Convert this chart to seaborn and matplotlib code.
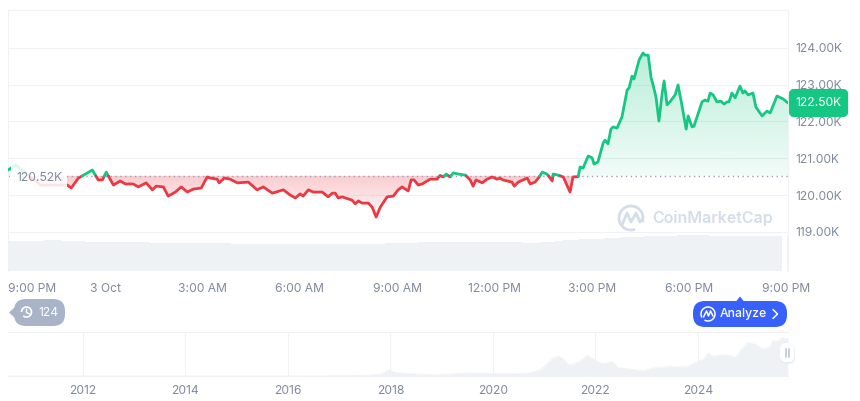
import numpy as np
import pandas as pd
import seaborn as sns
import matplotlib.pyplot as plt
from matplotlib.colors import to_rgb
from matplotlib.patches import FancyBboxPatch, Polygon, Rectangle, Arc

# Price, hours counted from midnight on 3 Oct
hours = [-2.99, -2.77, -2.00, -1.17, -1.05, -0.83, -0.55, -0.40, -0.22, -0.09, 0.03, 0.25, 0.46, 0.62, 0.86, 1.02,
         1.26, 1.45, 1.57, 1.79, 1.94, 2.16, 2.34, 2.53, 2.71, 2.96, 3.14, 3.24, 3.45, 3.51, 3.67, 3.85, 4.07, 4.41,
         4.68, 4.87, 5.15, 5.49, 5.70, 5.86, 6.01, 6.10, 6.26, 6.41, 6.69, 6.87, 7.00, 7.09, 7.18, 7.30, 7.61, 7.71,
         7.80, 7.92, 8.11, 8.23, 8.35, 8.48, 8.69, 8.88, 9.03, 9.15, 9.34, 9.43, 9.52, 9.65, 9.77, 9.92, 10.02, 10.23,
         10.32, 10.42, 10.51, 10.63, 10.73, 10.88, 11.10, 11.25, 11.34, 11.43, 11.62, 11.77, 11.93, 12.08, 12.17,
         12.26, 12.54, 12.61, 12.73, 12.88, 13.01, 13.10, 13.25, 13.38, 13.47, 13.62, 13.78, 13.81, 13.96, 14.12,
         14.33, 14.42, 14.58, 14.64, 14.73, 14.89, 15.01, 15.07, 15.19, 15.35, 15.41, 15.50, 15.59, 15.66, 15.78,
         15.93, 16.09, 16.15, 16.24, 16.30, 16.46, 16.58, 16.64, 16.74, 16.83, 16.89, 16.98, 17.07, 17.17, 17.23,
         17.32, 17.41, 17.57, 17.66, 17.75, 17.91, 17.97, 18.09, 18.15, 18.40, 18.49, 18.58, 18.65, 18.74, 18.86,
         18.98, 19.08, 19.17, 19.23, 19.32, 19.42, 19.57, 19.66, 19.72, 19.82, 19.97, 20.06, 20.25, 20.40, 20.50,
         20.71, 20.90, 21.05]
prices = [120.68, 120.82, 120.27, 120.27, 120.19, 120.46, 120.60, 120.68, 120.41, 120.41, 120.62, 120.27, 120.38,
          120.30, 120.30, 120.22, 120.33, 120.14, 120.24, 120.22, 119.97, 120.08, 120.22, 120.08, 120.16, 120.19,
          120.49, 120.46, 120.43, 120.33, 120.46, 120.43, 120.33, 120.35, 120.14, 120.22, 120.05, 120.14, 120.00,
          119.92, 120.03, 119.97, 120.14, 120.08, 120.08, 119.95, 120.05, 120.05, 119.92, 119.95, 119.86, 119.76,
          119.84, 119.78, 119.78, 119.67, 119.40, 119.67, 119.95, 119.97, 120.14, 120.22, 120.11, 120.41, 120.41,
          120.27, 120.30, 120.38, 120.43, 120.43, 120.53, 120.49, 120.57, 120.49, 120.60, 120.57, 120.54, 120.41,
          120.24, 120.41, 120.33, 120.43, 120.49, 120.43, 120.46, 120.41, 120.35, 120.24, 120.35, 120.41, 120.46,
          120.30, 120.35, 120.49, 120.62, 120.57, 120.38, 120.57, 120.54, 120.49, 120.08, 120.49, 120.50, 120.76,
          120.73, 121.06, 121.01, 120.84, 120.90, 121.41, 121.49, 121.39, 121.79, 121.85, 121.82, 122.12, 122.85,
          122.91, 123.23, 123.15, 123.67, 123.86, 123.80, 123.80, 123.18, 122.99, 122.66, 122.01, 122.77, 123.10,
          122.45, 122.53, 122.72, 122.99, 122.58, 121.79, 122.15, 121.85, 121.87, 122.53, 122.58, 122.55, 122.77,
          122.72, 122.53, 122.55, 122.47, 122.53, 122.53, 122.77, 122.64, 122.96, 122.77, 122.83, 122.72, 122.77,
          122.39, 122.15, 122.28, 122.23, 122.69, 122.61, 122.50]
base_price = 120.52
last_price = "122.50K"

# Volume in billions, one bar per 15 minutes
volume = [60, 60, 60, 60, 61, 62, 62, 61, 60, 60, 59, 59, 59, 59, 58, 58, 58, 58, 57, 57, 57, 57, 57, 57, 56, 56, 56,
          56, 55, 55, 55, 55, 55, 55, 55, 55, 54, 54, 54, 54, 54, 54, 54, 54, 55, 55, 55, 56, 57, 57, 57, 58, 58, 58,
          58, 58, 58, 59, 59, 59, 58, 58, 58, 58, 57, 57, 58, 58, 60, 62, 63, 64, 64, 65, 66, 67, 68, 68, 69, 70, 70,
          71, 71, 72, 72, 72, 72, 71, 71, 71, 71, 70, 70, 70, 70, 70, 70]
vol_start, vol_step = -3.005, 0.25

# All-time overview, year against price in thousands
years = [2010.54, 2013.9, 2016.0, 2016.9, 2017.5, 2017.8, 2017.97, 2018.1, 2018.5, 2018.9, 2019.5, 2020.0, 2020.2,
         2020.72, 2020.92, 2021.05, 2021.15, 2021.28, 2021.37, 2021.47, 2021.57, 2021.7, 2021.84, 2021.95, 2022.09,
         2022.2, 2022.28, 2022.35, 2022.44, 2022.67, 2022.93, 2023.2, 2023.45, 2023.78, 2023.98, 2024.1, 2024.2,
         2024.3, 2024.43, 2024.55, 2024.68, 2024.75, 2024.85, 2024.98, 2025.1, 2025.18, 2025.25, 2025.31, 2025.4,
         2025.46, 2025.55, 2025.66, 2025.7, 2025.76]
all_time = [0, 0.3, 0.5, 0.9, 2.5, 6, 19, 11, 7, 3.5, 10, 8, 7, 9.5, 20, 38, 54, 63, 54, 36, 38, 47, 66, 54, 41,
            40, 46, 44, 27, 22, 17, 27, 30, 29, 45, 52, 72, 62, 66, 67, 61, 60, 85, 106, 100, 95, 85, 87, 92,
            111, 110, 122, 117, 119]

price_ticks = [119, 120, 121, 122, 123, 124]
time_ticks = [-3, 0, 3, 6, 9, 12, 15, 18, 21]
time_labels = ["9:00 PM", "3 Oct", "3:00 AM", "6:00 AM", "9:00 AM", "12:00 PM", "3:00 PM", "6:00 PM", "9:00 PM"]
year_ticks = [2012, 2014, 2016, 2018, 2020, 2022, 2024]

GREEN = "#16c784"
RED = "#ea3943"
GREY = "#808a9d"
GRID = "#f0f2f5"
BAR = "#eff2f5"
W, H = 860, 401


def px_axes(left, top, right, bottom):
    return fig.add_axes([left / W, 1 - bottom / H, (right - left) / W, (bottom - top) / H])


def split_at_base(xs, ys, base):
    # cut the line where it crosses the base price so each piece has one colour
    pieces = []
    cur_x, cur_y = [xs[0]], [ys[0]]
    for i in range(1, len(xs)):
        if (ys[i - 1] - base) * (ys[i] - base) < 0:
            t = (base - ys[i - 1]) / (ys[i] - ys[i - 1])
            cx = xs[i - 1] + t * (xs[i] - xs[i - 1])
            cur_x.append(cx)
            cur_y.append(base)
            pieces.append((cur_x, cur_y))
            cur_x, cur_y = [cx], [base]
        cur_x.append(xs[i])
        cur_y.append(ys[i])
    pieces.append((cur_x, cur_y))
    return pieces


def gradient_fill(ax, xs, ys, base, color, y_hi, y_lo, a_hi, a_lo):
    poly = ax.fill_between(xs, ys, base, color="none", linewidth=0)
    grad = np.zeros((256, 2, 4))
    grad[..., :3] = to_rgb(color)
    grad[..., 3] = np.linspace(a_hi, a_lo, 256)[:, None]
    im = ax.imshow(grad, extent=[xs[0], xs[-1], y_lo, y_hi], origin="upper", aspect="auto",
                   interpolation="bilinear", zorder=1)
    im.set_clip_path(poly.get_paths()[0], transform=ax.transData)


sns.set_theme(style="white")
plt.rcParams["font.family"] = ["Inter", "DejaVu Sans"]

fig = plt.figure(figsize=(W / 100, H / 100), dpi=100)

# main price chart
ax = px_axes(8, 10, 788, 271)
ax.grid(True, axis="y", color=GRID, linewidth=0.75)
ax.set_axisbelow(True)

pieces = split_at_base(hours, prices, base_price)
line_x = np.concatenate([p[0] for p in pieces])
line_y = np.concatenate([p[1] for p in pieces])
line_x, keep = np.unique(line_x, return_index=True)
line_y = line_y[keep]

gradient_fill(ax, line_x, np.maximum(line_y, base_price), base_price, GREEN, 123.9, base_price, 0.30, 0.06)
gradient_fill(ax, line_x, np.minimum(line_y, base_price), base_price, RED, base_price, 119.4, 0.26, 0.03)

ax.axhline(base_price, color="#9aa3b2", linewidth=1, linestyle=(0, (1, 2.5)), zorder=2)

for px, py in pieces:
    seg = pd.DataFrame({"hour": px, "price": py})
    col = GREEN if np.mean(py) >= base_price else RED
    sns.lineplot(data=seg, x="hour", y="price", color=col, linewidth=2, sort=False, errorbar=None, ax=ax, zorder=3)

ax.set_xlim(-2.99, 21.05)
ax.set_ylim(117.935, 125.027)
ax.set_xlabel("")
ax.set_ylabel("")
ax.set_yticks(price_ticks)
ax.set_yticklabels([f"{t}.00K" for t in price_ticks])
for spine in ax.spines.values():
    spine.set_color(GRID)
    spine.set_linewidth(0.75)
ax.spines["bottom"].set_visible(False)

# volume bars share the time axis
ax_vol = ax.twinx()
vol_df = pd.DataFrame({"hour": [vol_start + vol_step * i for i in range(len(volume) - 1)] + [21.13],
                       "volume": volume})
sns.barplot(data=vol_df, x="hour", y="volume", native_scale=True, color=BAR, saturation=1, width=1,
            linewidth=0, errorbar=None, ax=ax_vol)
ax_vol.set_xlim(-2.99, 21.05)
ax_vol.set_ylim(0, 522)
ax_vol.set_xlabel("")
ax_vol.set_ylabel("")
ax_vol.set_yticks([])
ax_vol.tick_params(axis="x", length=0, labelbottom=False)
for spine in ax_vol.spines.values():
    spine.set_visible(False)
ax_vol.patch.set_visible(False)

# twinx moved the price ticks to the left, put them back
ax.yaxis.tick_right()
ax.tick_params(axis="both", length=0, labelsize=8.7, labelcolor=GREY)
ax.tick_params(axis="x", pad=9)
ax.tick_params(axis="y", pad=5)
ax.set_xticks(time_ticks)
ax.set_xticklabels(time_labels)
ax.get_xticklabels()[0].set_ha("left")

# all time overview
ax2 = px_axes(8, 332, 788, 376)
sns.lineplot(x=years, y=all_time, color=BAR, linewidth=0.5, errorbar=None, ax=ax2)
ax2.fill_between(years, all_time, 0, color=BAR, linewidth=0)
ax2.set_xlim(2010.54, 2025.76)
ax2.set_ylim(0, 138.6)
ax2.set_xticks(year_ticks)
ax2.set_xticklabels([str(y) for y in year_ticks])
ax2.set_yticks([])
ax2.grid(True, axis="x", color=GRID, linewidth=0.75)
ax2.set_axisbelow(True)
ax2.tick_params(axis="x", length=0, labelsize=8.7, labelcolor=GREY, pad=6.5)
for name, spine in ax2.spines.items():
    spine.set_visible(name in ("top", "bottom"))
    spine.set_color(GRID)
    spine.set_linewidth(0.75)

# overlay in pixels for the badges and the watermark
ov = fig.add_axes([0, 0, 1, 1])
ov.set_xlim(0, W)
ov.set_ylim(H, 0)
ov.axis("off")
ov.patch.set_visible(False)

# base price label
ov.add_patch(Rectangle((11, 159), 56, 35, facecolor="white", alpha=0.87, linewidth=0))
ov.text(39, 178, "120.52K", ha="center", va="center", fontsize=8.7, color=GREY)

# last price tag
ov.add_patch(FancyBboxPatch((791, 91), 55, 24, boxstyle="round,pad=0,rounding_size=3", facecolor=GREEN,
                            edgecolor=GREEN, linewidth=3))
ov.text(818.5, 103, last_price, ha="center", va="center", fontsize=8.7, color="white")

# watermark
wm = "#d5dde8"
ov.add_patch(Arc((631, 218), 24, 24, theta1=70, theta2=20, color=wm, linewidth=2))
ov.plot([622, 627, 631, 636, 640, 643], [225, 213, 222, 213, 222, 218], color=wm, linewidth=2)
ov.text(652, 218.5, "CoinMarketCap", ha="left", va="center", fontsize=11.5, color=wm, fontweight="semibold")

# history badge
slate = "#a9b4c8"
ov.add_patch(FancyBboxPatch((14, 299), 51, 27, boxstyle="round,pad=0,rounding_size=12", facecolor=slate,
                            linewidth=0))
ov.add_patch(Polygon([[9, 312.5], [16, 306], [16, 319]], facecolor=slate, linewidth=0))
ov.add_patch(Arc((26.5, 312), 10, 10, theta1=-180, theta2=130, color="white", linewidth=1.2))
ov.plot([26.5, 26.5, 29.5], [309, 312.5, 314], color="white", linewidth=1)
ov.text(48, 312.5, "124", ha="center", va="center", fontsize=8.7, color="white")

# analyze button
blue = "#3861fb"
ov.add_patch(FancyBboxPatch((693, 301), 94, 26, boxstyle="round,pad=0,rounding_size=12", facecolor=blue,
                            linewidth=0))
ov.add_patch(Polygon([[736, 301.5], [740, 296.5], [744, 301.5]], facecolor=blue, linewidth=0))
ov.add_patch(Arc((708, 314), 14, 14, theta1=-210, theta2=120, color="white", linewidth=1.1))
ov.plot([703.5, 706.5, 708.5, 710.5, 713], [317, 311, 316, 311, 316], color="white", linewidth=1.1)
ov.text(720, 314, "Analyze", ha="left", va="center", fontsize=8.8, color="white", fontweight="medium")
ov.plot([773, 777.5, 773], [309.5, 314, 318.5], color="white", linewidth=1.1)

# range handle
ov.add_patch(FancyBboxPatch((780, 344), 15, 20, boxstyle="round,pad=0,rounding_size=6", facecolor="#e6e9ee",
                            linewidth=0, alpha=0.7))
ov.add_patch(FancyBboxPatch((780, 343), 14, 19, boxstyle="round,pad=0,rounding_size=6", facecolor="white",
                            linewidth=0))
ov.plot([785.5, 785.5], [349, 357], color="#c4cad5", linewidth=1.3)
ov.plot([788.5, 788.5], [349, 357], color="#c4cad5", linewidth=1.3)

fig.savefig("out.png", dpi=100, facecolor="white")
